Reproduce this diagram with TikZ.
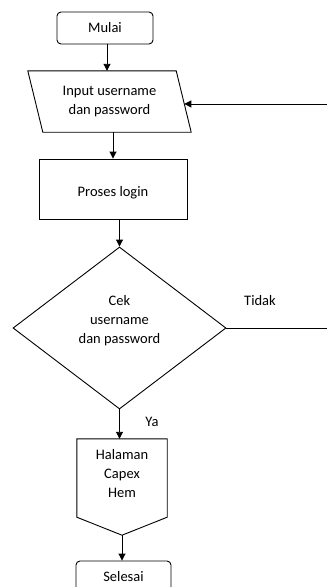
\documentclass[tikz,border=0pt]{standalone}
\usepackage{fontspec}
\setmainfont{Carlito}
\usetikzlibrary{shapes.geometric,arrows.meta,calc}
\begin{document}
\begin{tikzpicture}[x=1pt,y=-1pt,
  every node/.style={font=\fontsize{14.5}{19}\selectfont, inner sep=0pt, align=center},
  shp/.style={draw=black, line width=0.9pt},
  arr/.style={draw=black, line width=0.9pt, -{Triangle[length=7pt,width=7pt]}},
  ln/.style={draw=black, line width=0.9pt}]
\useasboundingbox (0,0) rectangle (327,587);
\clip (0,0) rectangle (327,587);
% Start
\node[shp, rounded corners=4pt, minimum width=96pt, minimum height=32pt] (mulai) at (105,28) {Mulai};
% Input parallelogram
\node[minimum width=163pt, minimum height=61pt] (inp) at (109.5,101.5) {Input username\\dan password};
\draw[shp] ([xshift=15pt]inp.south west) -- (inp.south east) -- ([xshift=-15pt]inp.north east) -- (inp.north west) -- cycle;
\coordinate (inpR) at ($(inp.south east)!0.46!([xshift=-15pt]inp.north east)$);
% Process
\node[shp, minimum width=148pt, minimum height=60pt] (proses) at (113,189) {};
\node (prosestext) at (113,193) {Proses login};
% Decision
\node[shp, diamond, minimum width=213pt, minimum height=162pt] (dia) at (119.5,328) {};
\node (diatext) at (119.5,320.5) {Cek\\username\\dan password};
% Off-page connector
\node[minimum width=90pt, minimum height=96pt] (hal) at (122,487) {};
\draw[shp] (hal.north west) -- (hal.north east) -- ([yshift=18pt]hal.south east) -- (hal.south) -- ([yshift=18pt]hal.south west) -- cycle;
\node (haltext) at (122,473.5) {Halaman\\Capex\\Hem};
% End
\node[shp, rounded corners=4pt, minimum width=95pt, minimum height=32pt] (selesai) at (123.5,577) {Selesai};
% Labels
\node (ya) at (152,422) {Ya};
\node (tidak) at (260,301) {Tidak};
% Connectors
\coordinate (retR) at (inpR -| 330,0);
\coordinate (tidakR) at (dia.east -| 330,0);
\draw[arr] (mulai.south -| 107,0) -- (107,0 |- inp.north);
\draw[arr] (proses.north |- inp.south) -- (proses.north);
\draw[arr] (dia.north |- proses.south) -- (dia.north);
\draw[arr] (dia.south) -- (dia.south |- hal.north);
\draw[arr] (hal.south) -- (hal.south |- selesai.north);
\draw[ln] (dia.east) -- (tidakR);
\draw[arr] (retR) -- (inpR);
\end{tikzpicture}
\end{document}
